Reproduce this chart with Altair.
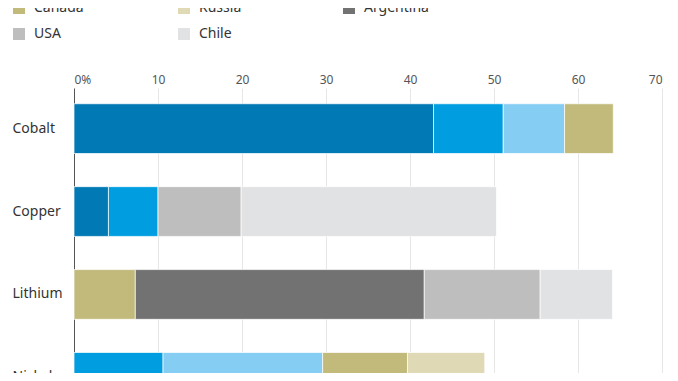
import altair as alt
import pandas as pd

minerals = ["Cobalt", "Copper", "Lithium", "Nickel"]
countries = ["DRC", "Australia", "Indonesia", "Canada", "Russia", "Argentina", "USA", "Chile"]
colors = ["#0079b4", "#009ee0", "#86cdf4", "#c2ba7b", "#dfd9b5", "#727272", "#bebebe", "#e1e2e3"]

cobalt_countries = ["DRC", "Australia", "Indonesia", "Canada"]
cobalt_values = [42.8, 8.3, 7.3, 5.8]
copper_countries = ["DRC", "Australia", "USA", "Chile"]
copper_values = [4.1, 5.9, 9.9, 30.4]
lithium_countries = ["Canada", "Argentina", "USA", "Chile"]
lithium_values = [7.3, 34.4, 13.8, 8.6]
nickel_countries = ["Australia", "Indonesia", "Canada", "Russia"]
nickel_values = [10.6, 19.0, 10.1, 9.2]

x_ticks = [0, 10, 20, 30, 40, 50, 60, 70]

rows = []
for mineral, cs, vs in [
    ("Cobalt", cobalt_countries, cobalt_values),
    ("Copper", copper_countries, copper_values),
    ("Lithium", lithium_countries, lithium_values),
    ("Nickel", nickel_countries, nickel_values),
]:
    for c, v in zip(cs, vs):
        rows.append({"mineral": mineral, "country": c, "share": v, "idx": countries.index(c)})
df = pd.DataFrame(rows)

FONT = "Noto Sans"

chart = (
    alt.Chart(df)
    .mark_bar(stroke="white", strokeWidth=1, strokeOpacity=0.7)
    .encode(
        x=alt.X(
            "share:Q",
            stack="zero",
            scale=alt.Scale(domain=[0, 70], nice=False, zero=True),
            axis=alt.Axis(
                orient="top",
                values=x_ticks,
                title=None,
                domain=False,
                ticks=False,
                tickSize=0,
                labelPadding=2,
                labelFontSize=12,
                labelColor="#555555",
                labelFont=FONT,
                labelExpr="datum.value == 0 ? '0%' : datum.label",
                grid=True,
                gridColor="#e6e6e6",
                gridWidth=1,
            ),
        ),
        y=alt.Y(
            "mineral:N",
            sort=minerals,
            scale=alt.Scale(range=[0, 330], paddingInner=0.4, paddingOuter=0.19),
            axis=alt.Axis(
                title=None,
                ticks=False,
                tickSize=0,
                domain=True,
                domainColor="#555555",
                domainWidth=1,
                labelAlign="left",
                labelPadding=62,
                labelFontSize=14,
                labelColor="#333333",
                labelFont=FONT,
                grid=False,
            ),
        ),
        color=alt.Color(
            "country:N",
            scale=alt.Scale(domain=countries, range=colors),
            legend=alt.Legend(
                title=None,
                orient="none",
                legendX=-62,
                legendY=-113,
                direction="horizontal",
                columns=3,
                symbolType="square",
                symbolSize=144,
                symbolStrokeWidth=0,
                labelFontSize=14,
                labelFont=FONT,
                labelColor="#333333",
                labelOffset=8,
                rowPadding=12,
                columnPadding=77,
                gridAlign="all",
            ),
        ),
        order=alt.Order("idx:Q"),
    )
    .properties(
        width=588,
        height=285,
        autosize=alt.AutoSizeParams(type="none"),
        padding={"left": 66, "top": 80, "right": 8, "bottom": 0},
    )
    .configure_view(stroke=None)
)

chart.save("out.html", embed_options={"renderer": "svg", "actions": False})
